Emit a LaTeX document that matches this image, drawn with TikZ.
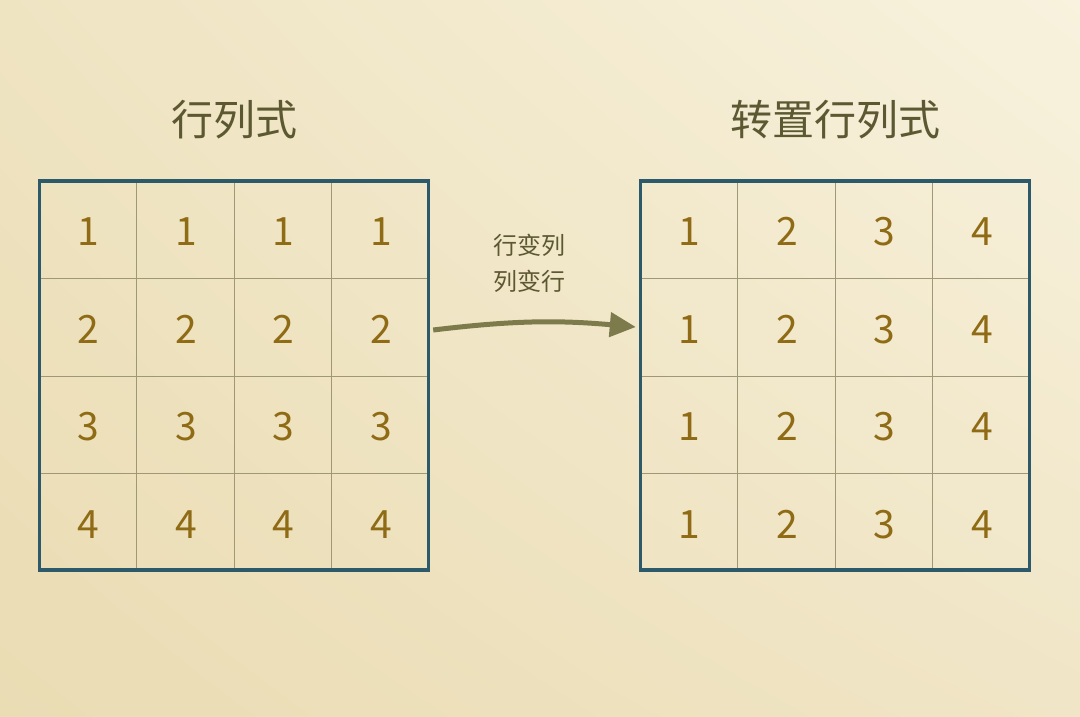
\documentclass[tikz,border=0pt]{standalone}
\usepackage{fontspec}
\setmainfont{Noto Sans CJK SC}
\usetikzlibrary{arrows.meta,shadings}

\definecolor{framecol}{HTML}{2D5A6B}
\definecolor{linecol}{HTML}{9E9876}
\definecolor{numcol}{HTML}{8E6B14}
\definecolor{titlecol}{HTML}{5C5832}
\definecolor{arrowcol}{HTML}{7D7A4C}
\definecolor{bgleft}{HTML}{EFE4C2}
\definecolor{bgright}{HTML}{F8F2DE}
\definecolor{bglow}{HTML}{EADCB3}
\definecolor{bgmid}{HTML}{F0E5C6}

\tikzset{
  gridframe/.style={draw=framecol, line width=3.4pt, minimum size=389pt, inner sep=0pt},
  cellline/.style={draw=linecol, line width=0.9pt},
  numtext/.style={text=numcol, font=\fontsize{39}{40}\selectfont, inner sep=0pt},
  titletext/.style={text=titlecol, font=\fontsize{42}{46}\selectfont, inner sep=0pt},
  flowarrow/.style={draw=arrowcol, line width=5pt, -{Triangle[length=26pt,width=24pt]}}
}

\begin{document}
\begin{tikzpicture}[x=1pt,y=-1pt]
\useasboundingbox (0,0) rectangle (1080,716);
\shade[upper left=bgleft, upper right=bgright, lower left=bglow, lower right=bgmid]
  (0,0) rectangle (1080,716);

\node [titletext] (ltitle) at (234,120) {行列式};
\node [titletext] (rtitle) at (835,120) {转置行列式};

% inner lines
\foreach \i in {1,2,3} {
  \draw [cellline] (39+\i*97.5,181) -- (39+\i*97.5,570);
  \draw [cellline] (39,181+\i*97.5) -- (429,181+\i*97.5);
  \draw [cellline] (640+\i*97.5,181) -- (640+\i*97.5,570);
  \draw [cellline] (640,181+\i*97.5) -- (1030,181+\i*97.5);
}

\node [gridframe] (lgrid) at (234,375.5) {};
\node [gridframe] (rgrid) at (835,375.5) {};

\foreach \r in {1,2,3,4}
  \foreach \c in {1,2,3,4} {
    \node [numtext] (l\r\c) at (40+\c*97.5-48.75,183+\r*97.5-48.75) {\r};
    \node [numtext] (r\r\c) at (641+\c*97.5-48.75,183+\r*97.5-48.75) {\c};
  }

\node [text=titlecol, font=\fontsize{24}{36}\selectfont, align=center, inner sep=0pt]
  (swap) at (529,263) {行变列\\列变行};

\draw [flowarrow] ([xshift=3pt,yshift=45.5pt]lgrid.east) to[bend left=6] ([xshift=-3pt,yshift=48.5pt]rgrid.west);

\end{tikzpicture}
\end{document}
